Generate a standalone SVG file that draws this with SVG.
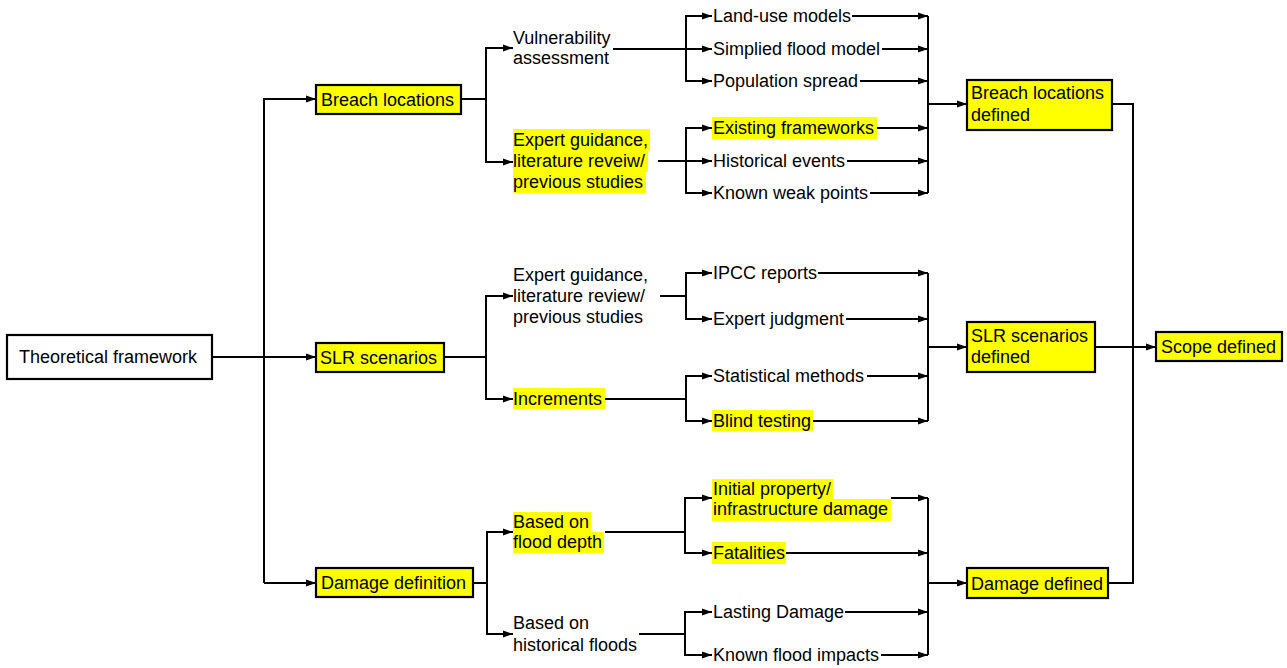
<svg xmlns="http://www.w3.org/2000/svg" width="1287" height="668" viewBox="0 0 1287 668">
<style>
text{font-family:"Liberation Sans",Arial,sans-serif;font-size:18px;fill:#000}
.box{stroke:#000;stroke-width:2.2}
.y{fill:#ffff00}
.w{fill:#ffffff}
.hl{fill:#ffff00;stroke:none}
.c{fill:none;stroke:#000;stroke-width:2}
.a{fill:none;stroke:#000;stroke-width:2;marker-end:url(#ah)}
</style>
<defs>
<marker id="ah" markerUnits="userSpaceOnUse" markerWidth="12" markerHeight="10" refX="10" refY="4" orient="auto">
<path d="M0,0.5 L10,4 L0,7.5 Z" fill="#000"/>
</marker>
</defs>
<rect width="1287" height="668" fill="#fff"/>

<g id="connectors">
<!-- main trunk -->
<path class="a" d="M212,357 H316"/>
<path class="a" d="M264,583 V99 H316"/>
<path class="a" d="M264,583 H316"/>
<!-- breach -->
<path class="c" d="M461,99 H486"/>
<path class="a" d="M486,99 V48 H513"/>
<path class="a" d="M486,99 V162 H513"/>
<path class="c" d="M613,49 H686"/>
<path class="a" d="M686,49 V16 H712"/>
<path class="a" d="M686,49 H712"/>
<path class="a" d="M686,49 V81 H712"/>
<path class="c" d="M658,161 H686"/>
<path class="a" d="M686,161 V128 H712"/>
<path class="a" d="M686,161 H712"/>
<path class="a" d="M686,161 V193 H712"/>
<path class="a" d="M852,16 H928"/>
<path class="a" d="M882,49 H928"/>
<path class="a" d="M860,81 H928"/>
<path class="a" d="M877,128 H928"/>
<path class="a" d="M847,161 H928"/>
<path class="a" d="M870,193 H928"/>
<path class="c" d="M928,16 V193"/>
<path class="a" d="M928,104 H967"/>
<!-- SLR -->
<path class="c" d="M444,357 H486"/>
<path class="a" d="M486,357 V296 H513"/>
<path class="a" d="M486,357 V399 H513"/>
<path class="c" d="M660,296 H686"/>
<path class="a" d="M686,296 V273 H712"/>
<path class="a" d="M686,296 V319 H712"/>
<path class="c" d="M605,399 H686"/>
<path class="a" d="M686,399 V376 H712"/>
<path class="a" d="M686,399 V421 H712"/>
<path class="a" d="M818,273 H928"/>
<path class="a" d="M846,319 H928"/>
<path class="a" d="M867,376 H928"/>
<path class="a" d="M813,421 H928"/>
<path class="c" d="M928,273 V421"/>
<path class="a" d="M928,347 H967"/>
<!-- Damage -->
<path class="c" d="M473,583 H487"/>
<path class="a" d="M487,583 V532 H513"/>
<path class="a" d="M487,583 V634 H513"/>
<path class="c" d="M605,532 H685"/>
<path class="a" d="M685,532 V498 H712"/>
<path class="a" d="M685,532 V553 H712"/>
<path class="c" d="M639,634 H685"/>
<path class="a" d="M685,634 V612 H712"/>
<path class="a" d="M685,634 V655 H712"/>
<path class="a" d="M891,498 H928"/>
<path class="a" d="M786,553 H928"/>
<path class="a" d="M845,612 H928"/>
<path class="a" d="M881,655 H928"/>
<path class="c" d="M928,498 V655"/>
<path class="a" d="M928,583 H967"/>
<!-- right trunk -->
<path class="c" d="M1112,104 H1133 V583 H1108"/>
<path class="a" d="M1095,347 H1156"/>
</g>

<g id="n-theoretical">
<rect class="box w" x="7" y="335" width="205" height="44"/>
<text x="19" y="363">Theoretical framework</text>
</g>
<g id="n-breach">
<rect class="box y" x="316" y="85" width="145" height="29"/>
<text x="321" y="106">Breach locations</text>
</g>
<g id="n-slr">
<rect class="box y" x="316" y="343" width="128" height="29"/>
<text x="320" y="364">SLR scenarios</text>
</g>
<g id="n-damage">
<rect class="box y" x="316" y="568" width="157" height="29"/>
<text x="321" y="589">Damage definition</text>
</g>

<g id="n-vulnerability">
<text x="513" y="44">Vulnerability</text>
<text x="513" y="64">assessment</text>
</g>
<g id="n-expert1">
<rect class="hl" x="513" y="129" width="137" height="22"/>
<rect class="hl" x="513" y="150" width="135" height="22"/>
<rect class="hl" x="513" y="171" width="133" height="22"/>
<text x="513" y="146">Expert guidance,</text>
<text x="513" y="167">literature reveiw/</text>
<text x="513" y="188">previous studies</text>
</g>
<g id="n-landuse"><text x="713" y="22">Land-use models</text></g>
<g id="n-simplied"><text x="713" y="55">Simplied flood model</text></g>
<g id="n-population"><text x="713" y="87">Population spread</text></g>
<g id="n-existing">
<rect class="hl" x="712" y="117" width="165" height="22"/>
<text x="713" y="134">Existing frameworks</text>
</g>
<g id="n-historical"><text x="713" y="167">Historical events</text></g>
<g id="n-weak"><text x="713" y="199">Known weak points</text></g>

<g id="n-expert2">
<text x="513" y="281">Expert guidance,</text>
<text x="513" y="302">literature review/</text>
<text x="513" y="323">previous studies</text>
</g>
<g id="n-increments">
<rect class="hl" x="513" y="388" width="92" height="21"/>
<text x="513" y="405">Increments</text>
</g>
<g id="n-ipcc"><text x="713" y="279">IPCC reports</text></g>
<g id="n-judgment"><text x="713" y="325">Expert judgment</text></g>
<g id="n-statistical"><text x="713" y="382">Statistical methods</text></g>
<g id="n-blind">
<rect class="hl" x="712" y="410" width="101" height="21"/>
<text x="713" y="427">Blind testing</text>
</g>

<g id="n-flooddepth">
<rect class="hl" x="513" y="512" width="78" height="21"/>
<rect class="hl" x="513" y="532" width="91" height="21"/>
<text x="513" y="528">Based on</text>
<text x="513" y="548">flood depth</text>
</g>
<g id="n-historicalfloods">
<text x="513" y="629">Based on</text>
<text x="513" y="651">historical floods</text>
</g>
<g id="n-initial">
<rect class="hl" x="712" y="479" width="121" height="21"/>
<rect class="hl" x="712" y="499" width="179" height="22"/>
<text x="713" y="495">Initial property/</text>
<text x="713" y="515">infrastructure damage</text>
</g>
<g id="n-fatalities">
<rect class="hl" x="712" y="542" width="74" height="22"/>
<text x="713" y="559">Fatalities</text>
</g>
<g id="n-lasting"><text x="713" y="618">Lasting Damage</text></g>
<g id="n-known"><text x="713" y="661">Known flood impacts</text></g>

<g id="n-breach-defined">
<rect class="box y" x="967" y="80" width="145" height="50"/>
<text x="971" y="99">Breach locations</text>
<text x="971" y="121">defined</text>
</g>
<g id="n-slr-defined">
<rect class="box y" x="967" y="322" width="128" height="50"/>
<text x="971" y="342">SLR scenarios</text>
<text x="971" y="363">defined</text>
</g>
<g id="n-damage-defined">
<rect class="box y" x="967" y="568" width="141" height="30"/>
<text x="971" y="590">Damage defined</text>
</g>
<g id="n-scope">
<rect class="box y" x="1156" y="332" width="126" height="29"/>
<text x="1161" y="353">Scope defined</text>
</g>
</svg>
